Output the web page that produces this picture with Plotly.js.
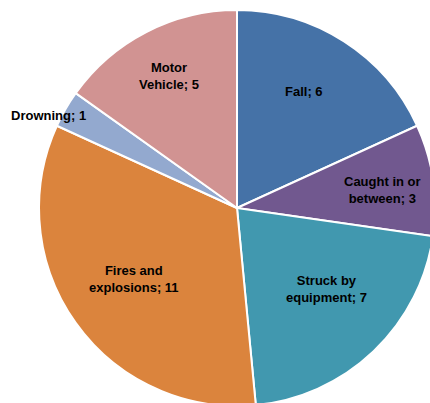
<!DOCTYPE html>
<html>
<head>
<meta charset="utf-8">
<script src="https://cdn.plot.ly/plotly-3.0.1.min.js"></script>
<style>
  html, body { margin: 0; padding: 0; overflow: hidden; background: #fff; }
  #chart { width: 474px; height: 416px; }
</style>
</head>
<body>
<div id="chart"></div>
<script>
// fatality causes
let causes = ["Fall", "Caught in or between", "Struck by equipment", "Fires and explosions", "Drowning", "Motor Vehicle"];
let counts = [6, 3, 7, 11, 1, 5];
let sliceLabels = ["Fall; 6", "Caught in or<br>between; 3", "Struck by<br>equipment; 7", "Fires and<br>explosions; 11", "Drowning; 1", "Motor<br>Vehicle; 5"];
let colors = ["#4572A7", "#71588F", "#4198AF", "#DB843D", "#93A9CF", "#D19392"];

// label placement: share of the radius, and a small turn (degrees) off the slice middle
let labelRadius = [0.68, 0.74, 0.61, 0.63, 1.06, 0.75];
let labelTurn = [-3, 1, -4, 1, -4, 0];

let W = 474, H = 416, mt = 10, mb = 10;
let R = (H - mt - mb) / 2;
let total = counts.reduce((a, b) => a + b, 0);

let annotations = [];
let acc = 0;
for (let i = 0; i < counts.length; i++) {
  let mid = (acc + counts[i] / 2) / total * 2 * Math.PI + labelTurn[i] * Math.PI / 180;
  acc += counts[i];
  let r = R * labelRadius[i];
  annotations.push({
    text: "<b>" + sliceLabels[i].split("<br>").join("</b><br><b>") + "</b>",
    xref: "paper", yref: "paper",
    x: 0.5 + r * Math.sin(mid) / W,
    y: 0.5 + r * Math.cos(mid) / (H - mt - mb),
    xanchor: "center", yanchor: "middle",
    showarrow: false,
    font: { family: "Liberation Sans, Arial, sans-serif", size: 13, color: "#000000" }
  });
}

let data = [{
  type: "pie",
  labels: causes,
  values: counts,
  textinfo: "none",
  direction: "clockwise",
  rotation: 0,
  sort: false,
  marker: { colors: colors, line: { color: "#ffffff", width: 2 } },
  showlegend: false,
  hoverinfo: "label+value"
}];

let layout = {
  width: W,
  height: H,
  margin: { l: 0, r: 0, t: mt, b: mb },
  paper_bgcolor: "#ffffff",
  font: { family: "Liberation Sans, Arial, sans-serif" },
  annotations: annotations
};

Plotly.newPlot("chart", data, layout, { staticPlot: true });
</script>
</body>
</html>
